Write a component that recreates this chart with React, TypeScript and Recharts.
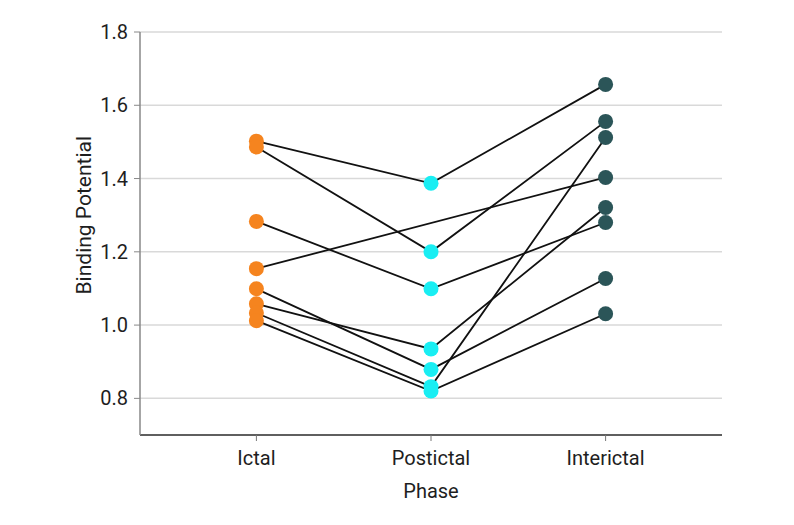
import { ComposedChart, Line, XAxis, YAxis, CartesianGrid, Label } from "recharts"

const phases = ["Ictal", "Postictal", "Interictal"]
const phasePos = [1, 2, 3]
const subjects = ["s1", "s2", "s3", "s4", "s5", "s6", "s7", "s8"]

// one value per subject, same order in each phase (s4 has no postictal scan)
const ictal = [1.502, 1.486, 1.283, 1.154, 1.099, 1.058, 1.033, 1.012]
const postictal = [1.387, 1.2, 1.099, null, 0.879, 0.935, 0.832, 0.82]
const interictal = [1.657, 1.556, 1.28, 1.403, 1.127, 1.321, 1.512, 1.031]

const yTicks = [0.8, 1.0, 1.2, 1.4, 1.6, 1.8]
const phaseColors = ["#F5841F", "#19EEF3", "#2B5558"]

const series = [ictal, postictal, interictal]
const data = phases.map((phase, i) => {
  const row: Record<string, any> = { x: phasePos[i], phase }
  subjects.forEach((s, j) => {
    row[s] = series[i][j]
  })
  return row
})

const font = "Roboto, 'Liberation Sans', Arial, sans-serif"
const textColor = "#1e1e1e"

function renderDot(props: any) {
  const { cx, cy, value, payload, key } = props
  if (value == null || cx == null || cy == null) return <g key={key} />
  const color = phaseColors[phasePos.indexOf(payload.x)]
  return <circle key={key} cx={cx} cy={cy} r={7.5} fill={color} stroke="none" />
}

function YLabel(props: any) {
  const { viewBox } = props
  const x = viewBox.x + 91
  const y = viewBox.y + viewBox.height * (0.5 / 1.1)
  return (
    <text
      x={x}
      y={y}
      transform={`rotate(-90, ${x}, ${y})`}
      textAnchor="middle"
      fontSize={21}
      fontFamily={font}
      fill={textColor}
    >
      Binding Potential
    </text>
  )
}

export default function App() {
  return (
    <div style={{ position: "absolute", left: 0, top: 0, background: "#fff" }}>
      <ComposedChart
        width={794}
        height={525}
        data={data}
        margin={{ top: 32, right: 72, bottom: 20, left: 0 }}
        style={{ fontFamily: font }}
      >
        <CartesianGrid vertical={false} stroke="#d9d9d9" strokeWidth={1.5} />
        <XAxis
          dataKey="x"
          type="number"
          domain={[1 / 3, 11 / 3]}
          ticks={phasePos}
          tickFormatter={(v: number) => phases[phasePos.indexOf(v)]}
          height={70}
          axisLine={{ stroke: "#333", strokeWidth: 1.5 }}
          tickLine={{ stroke: "#777" }}
          tickSize={6}
          tickMargin={10}
          tick={{ fontSize: 20, fill: textColor }}
          label={{ value: "Phase", position: "insideBottom", offset: 7, fontSize: 20, fill: textColor }}
        />
        <YAxis
          type="number"
          domain={[0.7, 1.8]}
          ticks={yTicks}
          tickFormatter={(v: number) => v.toFixed(1)}
          width={140}
          axisLine={{ stroke: "#888", strokeWidth: 1.5 }}
          tickLine={{ stroke: "#888" }}
          tickSize={6}
          tickMargin={6}
          tick={{ fontSize: 20, fill: textColor }}
          allowDataOverflow
        >
          <Label content={<YLabel />} />
        </YAxis>
        {subjects.map((s) => (
          <Line
            key={s}
            dataKey={s}
            type="linear"
            stroke="#111"
            strokeWidth={1.8}
            dot={false}
            activeDot={false}
            connectNulls
            isAnimationActive={false}
          />
        ))}
        {subjects.map((s) => (
          <Line
            key={s + "-dots"}
            dataKey={s}
            type="linear"
            stroke="none"
            dot={renderDot}
            activeDot={false}
            isAnimationActive={false}
          />
        ))}
      </ComposedChart>
    </div>
  )
}
